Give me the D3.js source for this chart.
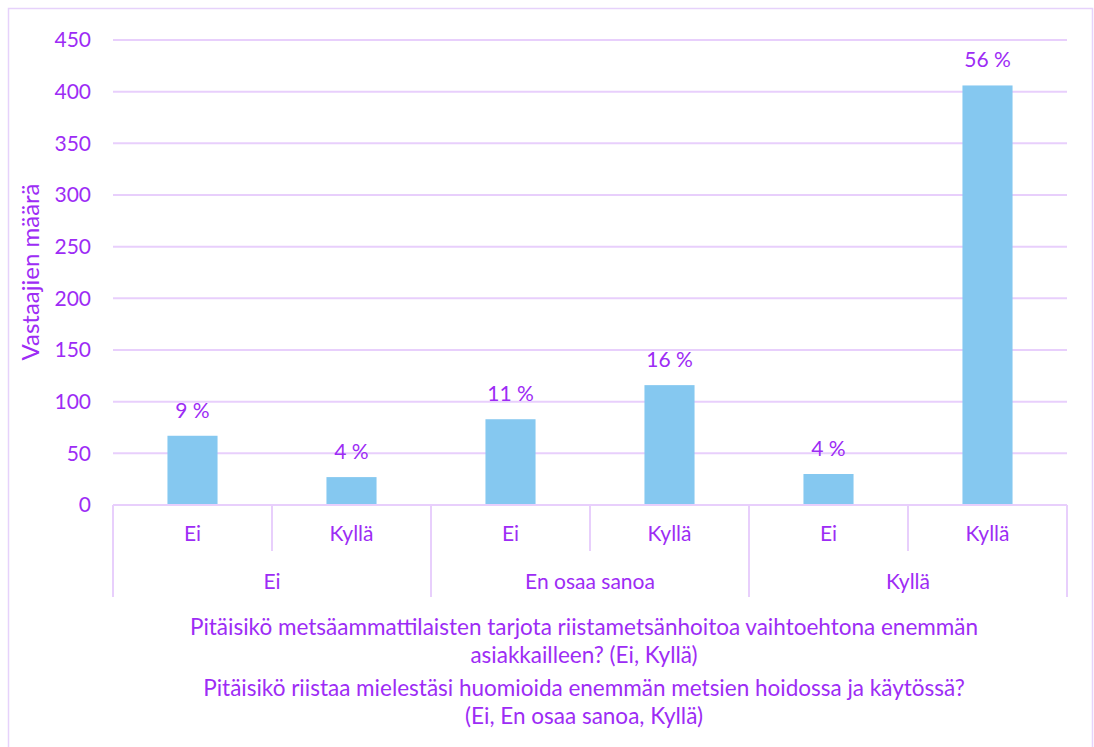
<!DOCTYPE html>
<html lang="fi">
<head>
  <meta charset="UTF-8" />
  <title>Riistametsänhoito</title>
  <style>
    body { margin: 0; background: white; }
    svg { display: block; font-family: Lato, 'Open Sans', sans-serif; }
    .lbl { fill: #9d2cf5; }
  </style>
</head>
<body>
  <svg width="1094" height="747"></svg>
  <script src="https://d3js.org/d3.v7.min.js"></script>
  <script>
    // outer groups and inner categories
    const groups = ["Ei", "En osaa sanoa", "Kyllä"];
    const inner = ["Ei", "Kyllä"];
    const counts = [67, 27, 83, 116, 30, 406];
    const percents = ["9 %", "4 %", "11 %", "16 %", "4 %", "56 %"];
    const yTicks = [0, 50, 100, 150, 200, 250, 300, 350, 400, 450];
    const titleLines = [
      "Pitäisikö metsäammattilaisten tarjota riistametsänhoitoa vaihtoehtona enemmän",
      "asiakkailleen? (Ei, Kyllä)",
      "Pitäisikö riistaa mielestäsi huomioida enemmän metsien hoidossa ja käytössä?",
      "(Ei, En osaa sanoa, Kyllä)"
    ];

    const grid = "#e8cffc";
    const plotL = 113, plotR = 1067, plotT = 40, plotB = 505;

    const svg = d3.select("svg");

    // chart border
    svg.append("rect")
      .attr("x", 8.5).attr("y", 8.5)
      .attr("width", 1084).attr("height", 760)
      .attr("fill", "none").attr("stroke", "#e6d2fb").attr("stroke-width", 1.5);

    const rows = [];
    groups.forEach(g => inner.forEach(c => rows.push({ g, c })));
    rows.forEach((r, i) => { r.v = counts[i]; r.p = percents[i]; r.key = i; });

    const x = d3.scaleBand().domain(d3.range(rows.length)).range([plotL, plotR]);
    const y = d3.scaleLinear().domain([0, 450]).range([plotB, plotT]);

    // gridlines
    svg.append("g").selectAll("line")
      .data(yTicks.filter(t => t > 0))
      .join("line")
        .attr("x1", plotL).attr("x2", plotR)
        .attr("y1", d => y(d)).attr("y2", d => y(d))
        .attr("stroke", grid).attr("stroke-width", 2);

    // y axis labels
    svg.append("g").selectAll("text")
      .data(yTicks)
      .join("text")
        .attr("class", "lbl")
        .attr("x", 91).attr("y", d => y(d))
        .attr("dy", "0.35em")
        .attr("text-anchor", "end")
        .style("font-size", "21px")
        .text(d => d);

    svg.append("text")
      .attr("class", "lbl")
      .attr("transform", "translate(31,272) rotate(-90)")
      .attr("dy", "0.35em")
      .attr("text-anchor", "middle")
      .style("font-size", "24px")
      .text("Vastaajien määrä");

    // bars
    const bw = x.bandwidth() * 0.315;
    svg.append("g").selectAll("rect")
      .data(rows)
      .join("rect")
        .attr("x", d => x(d.key) + (x.bandwidth() - bw) / 2)
        .attr("y", d => y(d.v))
        .attr("width", bw)
        .attr("height", d => plotB - y(d.v))
        .attr("fill", "#85c8f0");

    svg.append("g").selectAll("text")
      .data(rows)
      .join("text")
        .attr("class", "lbl")
        .attr("x", d => x(d.key) + x.bandwidth() / 2)
        .attr("y", d => y(d.v) - 18)
        .attr("text-anchor", "middle")
        .style("font-size", "21px")
        .text(d => d.p);

    // axis baseline and category dividers
    svg.append("line")
      .attr("x1", plotL).attr("x2", plotR)
      .attr("y1", plotB).attr("y2", plotB)
      .attr("stroke", grid).attr("stroke-width", 2);

    const divs = d3.range(rows.length + 1).map(i => ({
      xp: i < rows.length ? x(i) : plotR,
      outer: i % inner.length === 0
    }));
    svg.append("g").selectAll("line")
      .data(divs)
      .join("line")
        .attr("x1", d => d.xp).attr("x2", d => d.xp)
        .attr("y1", plotB).attr("y2", d => d.outer ? 597 : 551)
        .attr("stroke", grid).attr("stroke-width", 2);

    svg.append("g").selectAll("text")
      .data(rows)
      .join("text")
        .attr("class", "lbl")
        .attr("x", d => x(d.key) + x.bandwidth() / 2)
        .attr("y", 534).attr("dy", "0.35em")
        .attr("text-anchor", "middle")
        .style("font-size", "21px")
        .text(d => d.c);

    svg.append("g").selectAll("text")
      .data(groups)
      .join("text")
        .attr("class", "lbl")
        .attr("x", (d, i) => x(i * inner.length) + x.bandwidth())
        .attr("y", 582).attr("dy", "0.35em")
        .attr("text-anchor", "middle")
        .style("font-size", "21px")
        .text(d => d);

    // axis title
    svg.append("g").selectAll("text")
      .data(titleLines)
      .join("text")
        .attr("class", "lbl")
        .attr("x", 584)
        .attr("y", (d, i) => [627, 655, 688, 716][i])
        .attr("dy", "0.35em")
        .attr("text-anchor", "middle")
        .style("font-size", "22.5px")
        .text(d => d);
  </script>
</body>
</html>
